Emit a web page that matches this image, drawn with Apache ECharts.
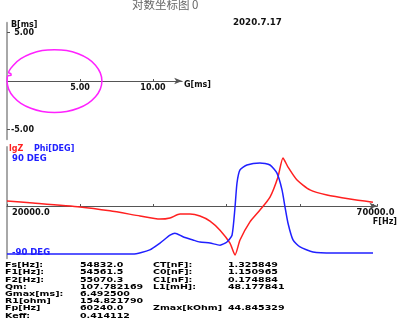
<!DOCTYPE html>
<html><head><meta charset="utf-8">
<script src="https://cdn.jsdelivr.net/npm/echarts@6/dist/echarts.min.js"></script>
<style>html,body{margin:0;padding:0;background:#fff}#c{width:400px;height:321px}</style>
</head><body><div id="c"></div>
<script>
// ---- data ----
const titleText = '对数坐标图 0';
const dateText = '2020.7.17';

// admittance circle: G[ms], B[ms]
const admG = [0.00, 0.08, 0.28, 0.26, 0.11, 0.44, 0.95, 1.63, 2.41, 3.25, 4.09, 4.88, 5.55, 6.06, 6.39, 6.50, 6.39, 6.06, 5.55, 4.88, 4.09, 3.25, 2.41, 1.63, 0.95, 0.44, 0.11, 0.00];
const admB = [0.00, 0.55, 0.58, 0.76, 0.84, 1.63, 2.30, 2.81, 3.14, 3.22, 3.14, 2.81, 2.30, 1.63, 0.84, 0.00, -0.84, -1.63, -2.30, -2.81, -3.14, -3.25, -3.14, -2.81, -2.30, -1.63, -0.84, 0.00];

// impedance curve: frequency [Hz], lgZ
const freqZ = [20000, 23550, 29970, 34070, 38170, 40900, 42270, 43630, 45000, 46360, 47730, 49100, 50460, 51150, 51830, 53190, 54560, 55930, 57020, 57700, 58390, 59620, 61390, 63710, 66850, 69990];
const lgZ   = [3.56, 3.51, 3.41, 3.31, 3.18, 3.10, 3.13, 3.23, 3.23, 3.18, 3.05, 2.82, 2.49, 2.19, 2.57, 3.03, 3.33, 3.66, 4.17, 4.65, 4.42, 4.09, 3.84, 3.71, 3.61, 3.53];

// phase curve: frequency [Hz], Phi[DEG]
const freqP = [20000, 37200, 39500, 40900, 42270, 42950, 44040, 45400, 46360, 47730, 49100, 50050, 50740, 51150, 51420, 51830, 52780, 54560, 55930, 56880, 57570, 57980, 58390, 59070, 60030, 61800, 64530, 70000];
const phiDeg = [-92, -92, -84, -71, -56, -52, -59, -65, -69, -71, -75, -69, -56, -2, 44, 69, 78.5, 82.5, 78.5, 63, 31, -2, -33, -65, -78.5, -88, -90, -90];

// tick labels
const gTicks = [5, 10];
const bTicks = [-5, 5];
const fLabelTicks = [20000, 70000];
const phiTicks = [-90, 90];

// parameter table
const paramLabelsL = ['Fs[Hz]:', 'F1[Hz]:', 'F2[Hz]:', 'Qm:', 'Gmax[ms]:', 'R1[ohm]', 'Fp[Hz]', 'Keff:'];
const paramValuesL = ['54832.0', '54561.5', '55070.3', '107.782169', '6.492500', '154.821790', '60240.0', '0.414112'];
const paramLabelsR = ['CT[nF]:', 'C0[nF]:', 'C1[nF]:', 'L1[mH]:', '', '', 'Zmax[kOhm]', ''];
const paramValuesR = ['1.325849', '1.150965', '0.174884', '48.177841', '', '', '44.845329', ''];

// ---- chart ----
const chart = echarts.init(document.getElementById('c'), null, {renderer: 'canvas'});
const BF = '"DejaVu Sans", sans-serif';
const txt = (x, y, text, font, fill, align, sy) => ({
  type: 'text', x: x, y: y, scaleY: sy || 1, silent: true,
  style: {text: text, font: font, fill: fill, textAlign: align || 'left', textVerticalAlign: 'middle'}
});

const graphics = [
  txt(132, 5, titleText, '11.5px "Noto Sans CJK SC"', '#666'),
  txt(233, 23, dateText, 'bold 8.7px ' + BF, '#111'),
  txt(11, 25, 'B[ms]', 'bold 8px ' + BF, '#111'),
  txt(184, 85, 'G[ms]', 'bold 8px ' + BF, '#111'),
  txt(9, 149, 'lgZ', 'bold 8px ' + BF, '#ff2020'),
  txt(34, 149, 'Phi[DEG]', 'bold 8px ' + BF, '#2020ff'),
  txt(397, 222, 'F[Hz]', 'bold 8px ' + BF, '#111', 'right')
];
const rowY0 = 265.5, rowDY = 7.2;
for (let i = 0; i < paramLabelsL.length; i++) {
  const y = rowY0 + i * rowDY;
  const f = 'bold 9.5px ' + BF;
  graphics.push(txt(5, y, paramLabelsL[i], f, '#000', 'left', 0.72));
  graphics.push(txt(80, y, paramValuesL[i], f, '#000', 'left', 0.72));
  if (paramLabelsR[i]) graphics.push(txt(153, y, paramLabelsR[i], f, '#000', 'left', 0.72));
  if (paramValuesR[i]) graphics.push(txt(228, y, paramValuesR[i], f, '#000', 'left', 0.72));
}

const option = {
  animation: false,
  backgroundColor: '#fff',
  grid: [
    {left: 7, top: 22.8, width: 175.2, height: 116.4},
    {left: 7, top: 147, width: 370.4, height: 111.2}
  ],
  xAxis: [
    {
      type: 'value', gridIndex: 0, min: 0, max: 12, position: 'bottom', offset: -58.2,
      axisLine: {onZero: false, symbol: ['none', 'arrow'], symbolSize: [5, 8], lineStyle: {color: '#555', width: 1}},
      axisTick: {customValues: gTicks, inside: true, length: 2, lineStyle: {color: '#555'}},
      axisLabel: {customValues: gTicks, formatter: v => v.toFixed(2), color: '#111', fontWeight: 'bold', fontSize: 8, fontFamily: BF, margin: 3},
      splitLine: {show: false}
    },
    {
      type: 'value', gridIndex: 1, min: 20000, max: 70600, interval: 10000, position: 'bottom', offset: -52.2,
      axisLine: {onZero: false, symbol: ['none', 'arrow'], symbolSize: [5, 8], lineStyle: {color: '#555', width: 1}},
      axisTick: {inside: true, length: 2, lineStyle: {color: '#555'}},
      axisLabel: {customValues: fLabelTicks, formatter: v => v.toFixed(1), color: '#111', fontWeight: 'bold', fontSize: 8.3, fontFamily: BF, margin: 3, alignMinLabel: 'left', padding: [0, 0, 0, 5]},
      splitLine: {show: false}
    }
  ],
  yAxis: [
    {
      type: 'value', gridIndex: 0, min: -6, max: 6,
      axisLine: {show: true, onZero: false, lineStyle: {color: '#a8a8a8', width: 2}},
      axisTick: {show: true, customValues: bTicks, inside: true, length: 3, lineStyle: {color: '#555'}},
      axisLabel: {customValues: bTicks, inside: true, align: 'right', margin: 27, formatter: v => v.toFixed(2), color: '#111', fontWeight: 'bold', fontSize: 8, fontFamily: BF},
      splitLine: {show: false}
    },
    {
      type: 'value', gridIndex: 1, min: -100, max: 113,
      axisLine: {show: true, onZero: false, lineStyle: {color: '#a8a8a8', width: 2}},
      axisTick: {show: false},
      axisLabel: {customValues: phiTicks, inside: true, margin: 5, formatter: v => v + ' DEG', color: '#2020ff', fontWeight: 'bold', fontSize: 8.5, fontFamily: BF},
      splitLine: {show: false}
    },
    {
      type: 'value', gridIndex: 1, min: 2.109, max: 4.929, show: false
    }
  ],
  series: [
    {
      type: 'line', xAxisIndex: 0, yAxisIndex: 0, smooth: 0.4, showSymbol: false, clip: false,
      lineStyle: {color: '#ff22ff', width: 1.5},
      data: admG.map((g, i) => [g, admB[i]])
    },
    {
      type: 'line', xAxisIndex: 1, yAxisIndex: 2, smooth: 0.2, showSymbol: false, clip: false,
      lineStyle: {color: '#ff2020', width: 1.5},
      data: freqZ.map((f, i) => [f, lgZ[i]])
    },
    {
      type: 'line', xAxisIndex: 1, yAxisIndex: 1, smooth: 0.2, showSymbol: false, clip: false,
      lineStyle: {color: '#2020ff', width: 1.5},
      data: freqP.map((f, i) => [f, phiDeg[i]])
    }
  ],
  graphic: graphics
};
chart.setOption(option);
</script>
</body></html>
